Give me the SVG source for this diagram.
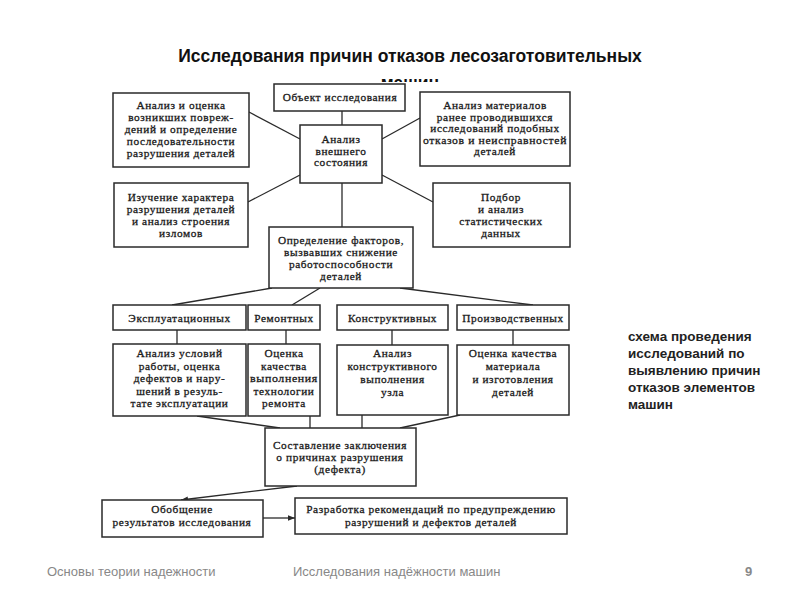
<svg xmlns="http://www.w3.org/2000/svg" width="800" height="600" viewBox="0 0 800 600">
<style>
.b{fill:#fff;stroke:#2a2a2a;stroke-width:1.5}
.t{font-family:"Liberation Serif","DejaVu Serif",serif;font-size:11.3px;letter-spacing:0.6px;fill:#1a1a1a;stroke:#1a1a1a;stroke-width:0.3;text-anchor:middle}
.c{stroke:#2a2a2a;stroke-width:1.3;fill:none}
.title{font-family:"Liberation Sans",Arial,sans-serif;font-size:17.5px;font-weight:bold;fill:#111;text-anchor:middle}
.side{font-family:"Liberation Sans",Arial,sans-serif;font-size:13.5px;font-weight:bold;fill:#222}
.foot{font-family:"Liberation Sans",Arial,sans-serif;font-size:13px;fill:#888}
</style>
<defs>
<marker id="ar" viewBox="0 0 10 10" refX="10" refY="5" markerWidth="7" markerHeight="7" orient="auto" markerUnits="userSpaceOnUse">
<path d="M0,1 L10,5 L0,9 z" fill="#2a2a2a"/>
</marker>
<clipPath id="cl"><rect x="0" y="0" width="800" height="82"/></clipPath>
</defs>
<rect width="800" height="600" fill="#fff"/>
<text class="title" x="410" y="62">Исследования причин отказов лесозаготовительных</text>
<text class="title" x="410" y="89" clip-path="url(#cl)">машин</text>

<g id="connectors">
<line class="c" x1="342" y1="111" x2="342" y2="125"/>
<line class="c" x1="249" y1="112" x2="300" y2="139"/>
<line class="c" x1="382" y1="139" x2="420" y2="118"/>
<line class="c" x1="300" y1="175" x2="248" y2="202"/>
<line class="c" x1="382" y1="175" x2="433" y2="202"/>
<line class="c" x1="342" y1="183" x2="342" y2="227"/>
<line class="c" x1="272" y1="288" x2="172" y2="305"/>
<line class="c" x1="320" y1="288" x2="292" y2="305"/>
<line class="c" x1="400" y1="288" x2="533" y2="305"/>
<line class="c" x1="177" y1="330" x2="177" y2="344"/>
<line class="c" x1="286" y1="330" x2="286" y2="344"/>
<line class="c" x1="392" y1="330" x2="392" y2="345"/>
<line class="c" x1="513" y1="330" x2="513" y2="345"/>
<line class="c" x1="197" y1="416" x2="280" y2="428"/>
<line class="c" x1="310" y1="416" x2="310" y2="428"/>
<line class="c" x1="362" y1="415" x2="362" y2="428"/>
<line class="c" x1="460" y1="415" x2="400" y2="428"/>
<line class="c" x1="297" y1="486" x2="181" y2="500" marker-end="url(#ar)"/>
<line class="c" x1="263" y1="518" x2="295" y2="518" marker-end="url(#ar)"/>
</g>

<g id="n-object"><rect class="b" x="274" y="84" width="131" height="27"/>
<text class="t" x="340" y="101">Объект исследования</text></g>

<g id="n-damage"><rect class="b" x="113" y="93" width="136" height="74"/>
<text class="t" x="181" y="109">Анализ и оценка</text>
<text class="t" x="181" y="121">возникших повреж-</text>
<text class="t" x="181" y="133">дений и определение</text>
<text class="t" x="181" y="145">последовательности</text>
<text class="t" x="181" y="157">разрушения деталей</text></g>

<g id="n-external"><rect class="b" x="300" y="125" width="82" height="58"/>
<text class="t" x="341" y="143">Анализ</text>
<text class="t" x="341" y="155">внешнего</text>
<text class="t" x="341" y="166">состояния</text></g>

<g id="n-materials"><rect class="b" x="420" y="92" width="150" height="74"/>
<text class="t" x="495" y="109">Анализ материалов</text>
<text class="t" x="495" y="120.5">ранее проводившихся</text>
<text class="t" x="495" y="132">исследований подобных</text>
<text class="t" x="495" y="143.5" textLength="144" lengthAdjust="spacingAndGlyphs">отказов и неисправностей</text>
<text class="t" x="495" y="155">деталей</text></g>

<g id="n-fracture"><rect class="b" x="114" y="183" width="134" height="64"/>
<text class="t" x="181" y="201">Изучение характера</text>
<text class="t" x="181" y="212.5">разрушения деталей</text>
<text class="t" x="181" y="224.5">и анализ строения</text>
<text class="t" x="181" y="236.5">изломов</text></g>

<g id="n-stat"><rect class="b" x="433" y="183" width="137" height="64"/>
<text class="t" x="501" y="201">Подбор</text>
<text class="t" x="501" y="212.5">и анализ</text>
<text class="t" x="501" y="224.5">статистических</text>
<text class="t" x="501" y="236.5">данных</text></g>

<g id="n-factors"><rect class="b" x="269" y="227" width="144" height="61"/>
<text class="t" x="341" y="244">Определение факторов,</text>
<text class="t" x="341" y="256">вызвавших снижение</text>
<text class="t" x="341" y="267.5">работоспособности</text>
<text class="t" x="341" y="280">деталей</text></g>

<g id="n-expl"><rect class="b" x="113" y="305" width="133" height="25"/>
<text class="t" x="179.5" y="322">Эксплуатационных</text></g>
<g id="n-rem"><rect class="b" x="248" y="305" width="72" height="25"/>
<text class="t" x="284" y="322">Ремонтных</text></g>
<g id="n-konstr"><rect class="b" x="337" y="305" width="111" height="25"/>
<text class="t" x="392.5" y="322">Конструктивных</text></g>
<g id="n-proizv"><rect class="b" x="457" y="305" width="112" height="25"/>
<text class="t" x="513" y="322">Производственных</text></g>

<g id="n-expl-a"><rect class="b" x="113" y="344" width="133" height="72"/>
<text class="t" x="179.5" y="357">Анализ условий</text>
<text class="t" x="179.5" y="369.5">работы, оценка</text>
<text class="t" x="179.5" y="382">дефектов и нару-</text>
<text class="t" x="179.5" y="394.5">шений в резуль-</text>
<text class="t" x="179.5" y="407">тате эксплуатации</text></g>
<g id="n-rem-a"><rect class="b" x="248" y="344" width="72" height="72"/>
<text class="t" x="284" y="357">Оценка</text>
<text class="t" x="284" y="369.5">качества</text>
<text class="t" x="284" y="382" textLength="68" lengthAdjust="spacingAndGlyphs">выполнения</text>
<text class="t" x="284" y="394.5">технологии</text>
<text class="t" x="284" y="407">ремонта</text></g>
<g id="n-konstr-a"><rect class="b" x="337" y="345" width="111" height="70"/>
<text class="t" x="392.5" y="357">Анализ</text>
<text class="t" x="392.5" y="370">конструктивного</text>
<text class="t" x="392.5" y="383">выполнения</text>
<text class="t" x="392.5" y="396">узла</text></g>
<g id="n-proizv-a"><rect class="b" x="457" y="345" width="112" height="70"/>
<text class="t" x="513" y="357">Оценка качества</text>
<text class="t" x="513" y="370">материала</text>
<text class="t" x="513" y="383">и изготовления</text>
<text class="t" x="513" y="396">деталей</text></g>

<g id="n-concl"><rect class="b" x="265" y="428" width="151" height="58"/>
<text class="t" x="340" y="449">Составление заключения</text>
<text class="t" x="340" y="461">о причинах разрушения</text>
<text class="t" x="340" y="472.5">(дефекта)</text></g>

<g id="n-summary"><rect class="b" x="102" y="500" width="161" height="37"/>
<text class="t" x="182" y="513">Обобщение</text>
<text class="t" x="182" y="526">результатов исследования</text></g>

<g id="n-recom"><rect class="b" x="295" y="498" width="272" height="36"/>
<text class="t" x="431" y="513">Разработка рекомендаций по предупреждению</text>
<text class="t" x="431" y="526">разрушений и дефектов деталей</text></g>

<g id="side-note">
<text class="side" x="628" y="341">схема проведения</text>
<text class="side" x="628" y="358">исследований по</text>
<text class="side" x="628" y="375">выявлению причин</text>
<text class="side" x="628" y="392">отказов элементов</text>
<text class="side" x="628" y="409">машин</text>
</g>

<g id="footer">
<text class="foot" x="47" y="576">Основы теории надежности</text>
<text class="foot" x="293" y="576">Исследования надёжности машин</text>
<text class="foot" x="745" y="576" font-weight="bold">9</text>
</g>
</svg>
